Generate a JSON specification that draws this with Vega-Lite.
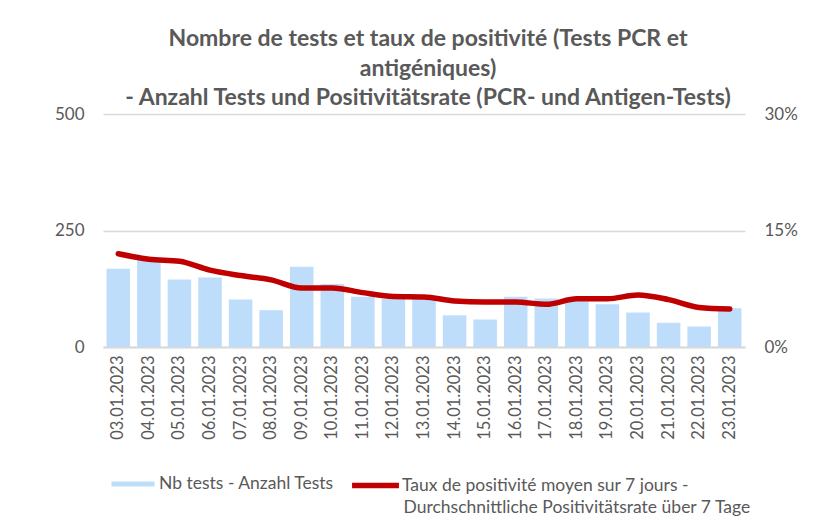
{
  "$schema": "https://vega.github.io/schema/vega-lite/v6.json",
  "width": 642,
  "height": 233,
  "autosize": {"type": "none"},
  "padding": {"left": 103, "top": 114, "right": 93, "bottom": 176},
  "background": "white",
  "config": {
    "font": "Lato",
    "view": {"stroke": null},
    "axis": {"labelColor": "#595959", "labelFont": "Lato", "titleColor": "#595959"}
  },
  "title": {
    "text": ["Nombre de tests et taux de positivité (Tests PCR et", "antigéniques)", "- Anzahl Tests und Positivitätsrate (PCR- und Antigen-Tests)"],
    "font": "Lato",
    "fontSize": 23,
    "fontWeight": "bold",
    "color": "#595959",
    "lineHeight": 29.5,
    "anchor": "middle",
    "offset": -5,
    "dx": 4
  },
  "data": {
    "values": [
      {"date": "03.01.2023", "tests": 168, "rate": 0.120},
      {"date": "04.01.2023", "tests": 188, "rate": 0.113},
      {"date": "05.01.2023", "tests": 145, "rate": 0.1105},
      {"date": "06.01.2023", "tests": 149, "rate": 0.099},
      {"date": "07.01.2023", "tests": 102, "rate": 0.092},
      {"date": "08.01.2023", "tests": 79, "rate": 0.0864},
      {"date": "09.01.2023", "tests": 172, "rate": 0.076},
      {"date": "10.01.2023", "tests": 135, "rate": 0.076},
      {"date": "11.01.2023", "tests": 108, "rate": 0.070},
      {"date": "12.01.2023", "tests": 103, "rate": 0.065},
      {"date": "13.01.2023", "tests": 103, "rate": 0.0645},
      {"date": "14.01.2023", "tests": 68, "rate": 0.0593},
      {"date": "15.01.2023", "tests": 59, "rate": 0.058},
      {"date": "16.01.2023", "tests": 108, "rate": 0.058},
      {"date": "17.01.2023", "tests": 104, "rate": 0.055},
      {"date": "18.01.2023", "tests": 98, "rate": 0.062},
      {"date": "19.01.2023", "tests": 92, "rate": 0.062},
      {"date": "20.01.2023", "tests": 74, "rate": 0.067},
      {"date": "21.01.2023", "tests": 52, "rate": 0.061},
      {"date": "22.01.2023", "tests": 44, "rate": 0.051},
      {"date": "23.01.2023", "tests": 83, "rate": 0.049}
    ]
  },
  "encoding": {
    "x": {
      "field": "date",
      "type": "ordinal",
      "sort": null,
      "scale": {"paddingInner": 0.23, "paddingOuter": 0.115},
      "axis": {
        "title": null,
        "labelAngle": -90,
        "labelFontSize": 16.5,
        "labelPadding": 8,
        "ticks": false,
        "domain": true,
        "domainColor": "#D9D9D9",
        "domainWidth": 2
      }
    }
  },
  "layer": [
    {
      "mark": {"type": "bar"},
      "encoding": {
        "y": {
          "field": "tests",
          "type": "quantitative",
          "scale": {"domain": [0, 500]},
          "axis": {
            "title": null,
            "values": [0, 250, 500],
            "domain": false,
            "ticks": false,
            "labelFontSize": 17,
            "labelPadding": 19,
            "grid": true,
            "gridColor": "#D9D9D9",
            "gridWidth": 1.5
          }
        },
        "fill": {
          "datum": "Nb tests - Anzahl Tests",
          "scale": {"range": ["#BDDDFB"]},
          "legend": {
            "title": null,
            "orient": "none",
            "legendX": 8,
            "legendY": 348,
            "symbolType": "M-1,-0.12H1V0.12H-1Z",
            "symbolSize": 1850,
            "symbolStrokeWidth": 0,
            "labelFontSize": 17.5,
            "labelColor": "#595959",
            "labelOffset": 4,
            "labelLimit": 400
          }
        }
      }
    },
    {
      "mark": {"type": "line", "strokeWidth": 5.5, "interpolate": "monotone", "strokeCap": "round"},
      "encoding": {
        "y": {
          "field": "rate",
          "type": "quantitative",
          "scale": {"domain": [0, 0.3]},
          "axis": {
            "orient": "right",
            "title": null,
            "values": [0, 0.15, 0.3],
            "format": ".0%",
            "domain": false,
            "ticks": false,
            "grid": false,
            "labelFontSize": 17,
            "labelPadding": 19
          }
        },
        "stroke": {
          "datum": "Taux de positivité moyen sur 7 jours -",
          "scale": {"range": ["#C00000"]},
          "legend": {
            "title": null,
            "orient": "none",
            "legendX": 246,
            "legendY": 345,
            "symbolType": "stroke",
            "symbolSize": 2200,
            "symbolStrokeWidth": 5.5,
            "labelFontSize": 17.5,
            "labelColor": "#595959",
            "labelOffset": 0,
            "labelLimit": 500
          }
        },
        "opacity": {
          "datum": "Durchschnittliche Positivitätsrate über 7 Tage",
          "scale": {"range": [1]},
          "legend": {
            "title": null,
            "orient": "none",
            "legendX": 283,
            "legendY": 385,
            "symbolType": "circle",
            "symbolSize": 1,
            "symbolOpacity": 0,
            "symbolStrokeWidth": 0,
            "labelFontSize": 17.5,
            "labelColor": "#595959",
            "labelOffset": 0,
            "labelLimit": 500
          }
        }
      }
    }
  ],
  "resolve": {"scale": {"y": "independent"}}
}
